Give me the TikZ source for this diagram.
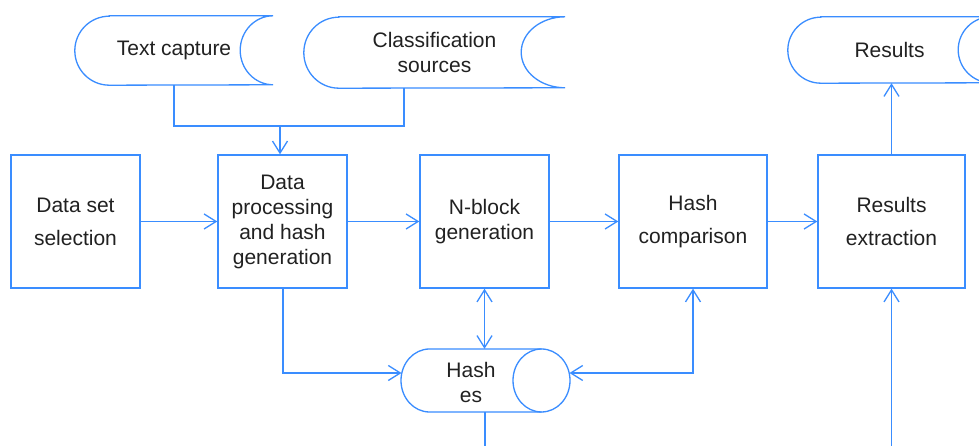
\documentclass[tikz,border=0pt]{standalone}
\usepackage{fontspec}
\setmainfont{Liberation Sans}
\usetikzlibrary{arrows.meta,calc}
\definecolor{fblue}{HTML}{3A8DFF}
\definecolor{ftext}{HTML}{212121}
\begin{document}
\begin{tikzpicture}[x=1pt,y=1pt,
  line/.style={draw=fblue,line width=1.3pt},
  arr/.style={line,-{Straight Barb[length=12pt,width=15pt]}},
  arrtwo/.style={line,{Straight Barb[length=12pt,width=15pt]}-{Straight Barb[length=12pt,width=15pt]}},
  procbox/.style={draw=fblue,line width=1.4pt,minimum height=133pt,minimum width=129pt,inner sep=0pt,align=center,text=ftext,font=\fontsize{21}{25}\selectfont},
  widebox/.style={procbox,font=\fontsize{21}{33}\selectfont},
  shapelbl/.style={inner sep=0pt,align=center,text=ftext,font=\fontsize{21}{25}\selectfont}]
\fill[white] (0,0) rectangle (979,446);
\useasboundingbox (0,0) rectangle (979,446);

% process boxes
\node[widebox] (ds) at (75.5,224.5) {Data set\\selection};
\node[procbox] (dp) at (282.5,224.5) {Data\\processing\\and hash\\generation};
\node[procbox] (nb) at (484.5,224.5) {N-block\\generation};
\node[widebox,minimum width=148pt] (hc) at (693,224.5) {Hash\\comparison};
\node[widebox,minimum width=147pt] (rx) at (891.5,224.5) {Results\\extraction};

% stored data shapes
\node[shapelbl,minimum width=198pt,minimum height=69pt] (tc) at (174,395.5) {Text capture};
\draw[line] ([xshift=34.5pt]tc.north west) -- (tc.north east)
  arc[start angle=90,end angle=270,x radius=33,y radius=34.5]
  -- ([xshift=34.5pt]tc.south west)
  arc[start angle=270,end angle=90,x radius=34.5,y radius=34.5] -- cycle;

\node[shapelbl,minimum width=261pt,minimum height=71pt] (cs) at (434.5,393.5) {Classification\\sources};
\draw[line] ([xshift=35pt]cs.north west) -- (cs.north east)
  arc[start angle=90,end angle=270,x radius=44,y radius=35.5]
  -- ([xshift=35pt]cs.south west)
  arc[start angle=270,end angle=90,x radius=35,y radius=35.5] -- cycle;

\node[shapelbl,minimum width=203pt,minimum height=66pt] (res) at (889.5,396) {Results};
\draw[line] ([xshift=33pt]res.north west) -- (res.north east)
  arc[start angle=90,end angle=270,x radius=33,y radius=33]
  -- ([xshift=33pt]res.south west)
  arc[start angle=270,end angle=90,x radius=33,y radius=33] -- cycle;

% hashes drum
\node[inner sep=0pt,minimum width=169pt,minimum height=63pt] (hs) at (485.5,65.5) {};
\draw[line] (541.5,97) -- (429.5,97)
  arc[start angle=90,end angle=270,x radius=28.5,y radius=31.5] -- (541.5,34);
\draw[line] (541.5,65.5) ellipse[x radius=28.5,y radius=31.5];
\node[shapelbl] (hst) at (471,63.5) {Hash\\es};

% connectors
\coordinate (j) at (280,320);
\coordinate (csb) at ([xshift=-30.5pt]cs.south);
\draw[line] (tc.south) |- (j) -| (csb);
\draw[arr] (j) -- (j |- dp.north);

\draw[arr] (ds) -- (dp);
\draw[arr] (dp) -- (nb);
\draw[arr] (nb) -- (hc);
\draw[arr] (hc) -- (rx);
\draw[arr] (rx.north) -- (rx.north |- res.south);

\coordinate (rb) at (891.5,0);
\draw[arr] (rb) -- (rx.south);

\coordinate (hl) at (401.5,73);
\coordinate (hr) at (569.5,73);
\draw[arr] ([xshift=0.5pt]dp.south) |- (hl);
\draw[arrtwo] (nb.south) -- (nb.south |- hs.north);
\draw[arrtwo] (hc.south) |- (hr);
\coordinate (hb) at (485,0);
\draw[line] (hb |- hs.south) -- (hb);
\end{tikzpicture}
\end{document}
